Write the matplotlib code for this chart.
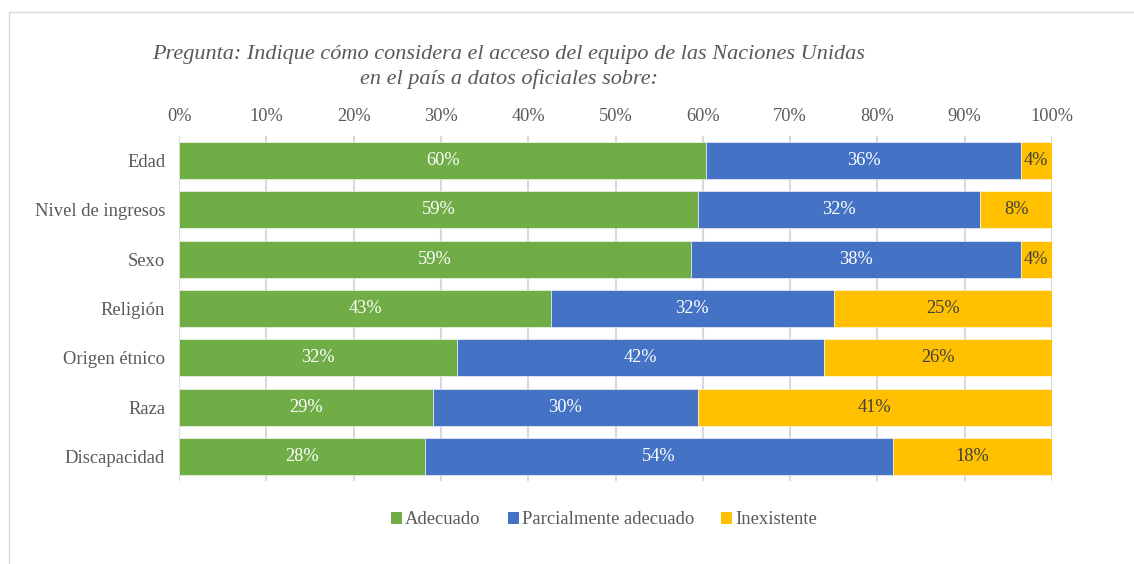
import matplotlib
matplotlib.use("Agg")
import matplotlib.pyplot as plt
from matplotlib.patches import Patch
from matplotlib.lines import Line2D
import numpy as np

categories = ["Edad", "Nivel de ingresos", "Sexo", "Religión", "Origen étnico", "Raza", "Discapacidad"]
adecuado = [60.4, 59.4, 58.6, 42.6, 31.8, 29.1, 28.2]
parcial = [36.0, 32.4, 37.8, 32.4, 42.1, 30.3, 53.6]
inexistente = [3.6, 8.2, 3.6, 25.0, 26.1, 40.6, 18.2]
series_names = ["Adecuado", "Parcialmente adecuado", "Inexistente"]
colors = ["#70AD47", "#4472C4", "#FFC000"]
label_colors = ["white", "white", "#404040"]
xticks = list(range(0, 101, 10))
title_lines = "Pregunta: Indique cómo considera el acceso del equipo de las Naciones Unidas\nen el país a datos oficiales sobre:"

plt.rcParams['font.family'] = ['Liberation Serif', 'DejaVu Serif']

fig = plt.figure(figsize=(11.34, 5.64), dpi=100)
W, H = 1134, 564
ax = fig.add_axes([179 / W, 1 - 481 / H, (1052 - 179) / W, (481 - 136) / H])

# outer frame (left and top edges only visible)
fx, fy = 8.5 / W, 1 - 11.5 / H
fig.add_artist(Line2D([fx, fx], [0, fy], transform=fig.transFigure, color="#D9D9D9", linewidth=1.0))
fig.add_artist(Line2D([fx, 1], [fy, fy], transform=fig.transFigure, color="#D9D9D9", linewidth=1.0))

y = np.arange(len(categories))
data = [adecuado, parcial, inexistente]
left = np.zeros(len(categories))
for vals, name, c, lc in zip(data, series_names, colors, label_colors):
    vals = np.array(vals)
    ax.barh(y, vals, left=left, height=0.75, color=c, edgecolor="white",
            linewidth=0.4, label=name, zorder=3)
    for yi, l, v in zip(y, left, vals):
        ax.text(l + v / 2, yi, f"{v:.0f}%", ha="center", va="center",
                color=lc, fontsize=13.2, zorder=4)
    left = left + vals

ax.set_xlim(0, 100)
ax.set_ylim(len(categories) - 0.5, -0.5)
ax.set_xticks(xticks)
ax.set_xticklabels([f"{t}%" for t in xticks])
ax.xaxis.tick_top()
ax.tick_params(axis="x", length=0, pad=8, labelsize=13.2, labelcolor="#595959")
ax.set_yticks(y)
ax.set_yticklabels(categories)
ax.tick_params(axis="y", length=0, pad=10, labelsize=13.4, labelcolor="#595959")
ax.grid(axis="x", color="#D9D9D9", linewidth=1.5, zorder=0)
ax.set_axisbelow(True)
for s in ax.spines.values():
    s.set_visible(False)

fig.text(509 / W, 1 - 67 / H, title_lines, ha="center", va="center", fontsize=16,
         style="italic", color="#595959", linespacing=1.35)

handles = [Patch(facecolor=c, edgecolor="none") for c in colors]
fig.legend(handles, series_names, loc="center", bbox_to_anchor=(604 / W, 1 - 520 / H),
           ncol=3, frameon=False, fontsize=13.4, labelcolor="#595959",
           handlelength=0.6, handleheight=0.6, handletextpad=0.15, columnspacing=1.45)

fig.savefig("out.png", dpi=100)
